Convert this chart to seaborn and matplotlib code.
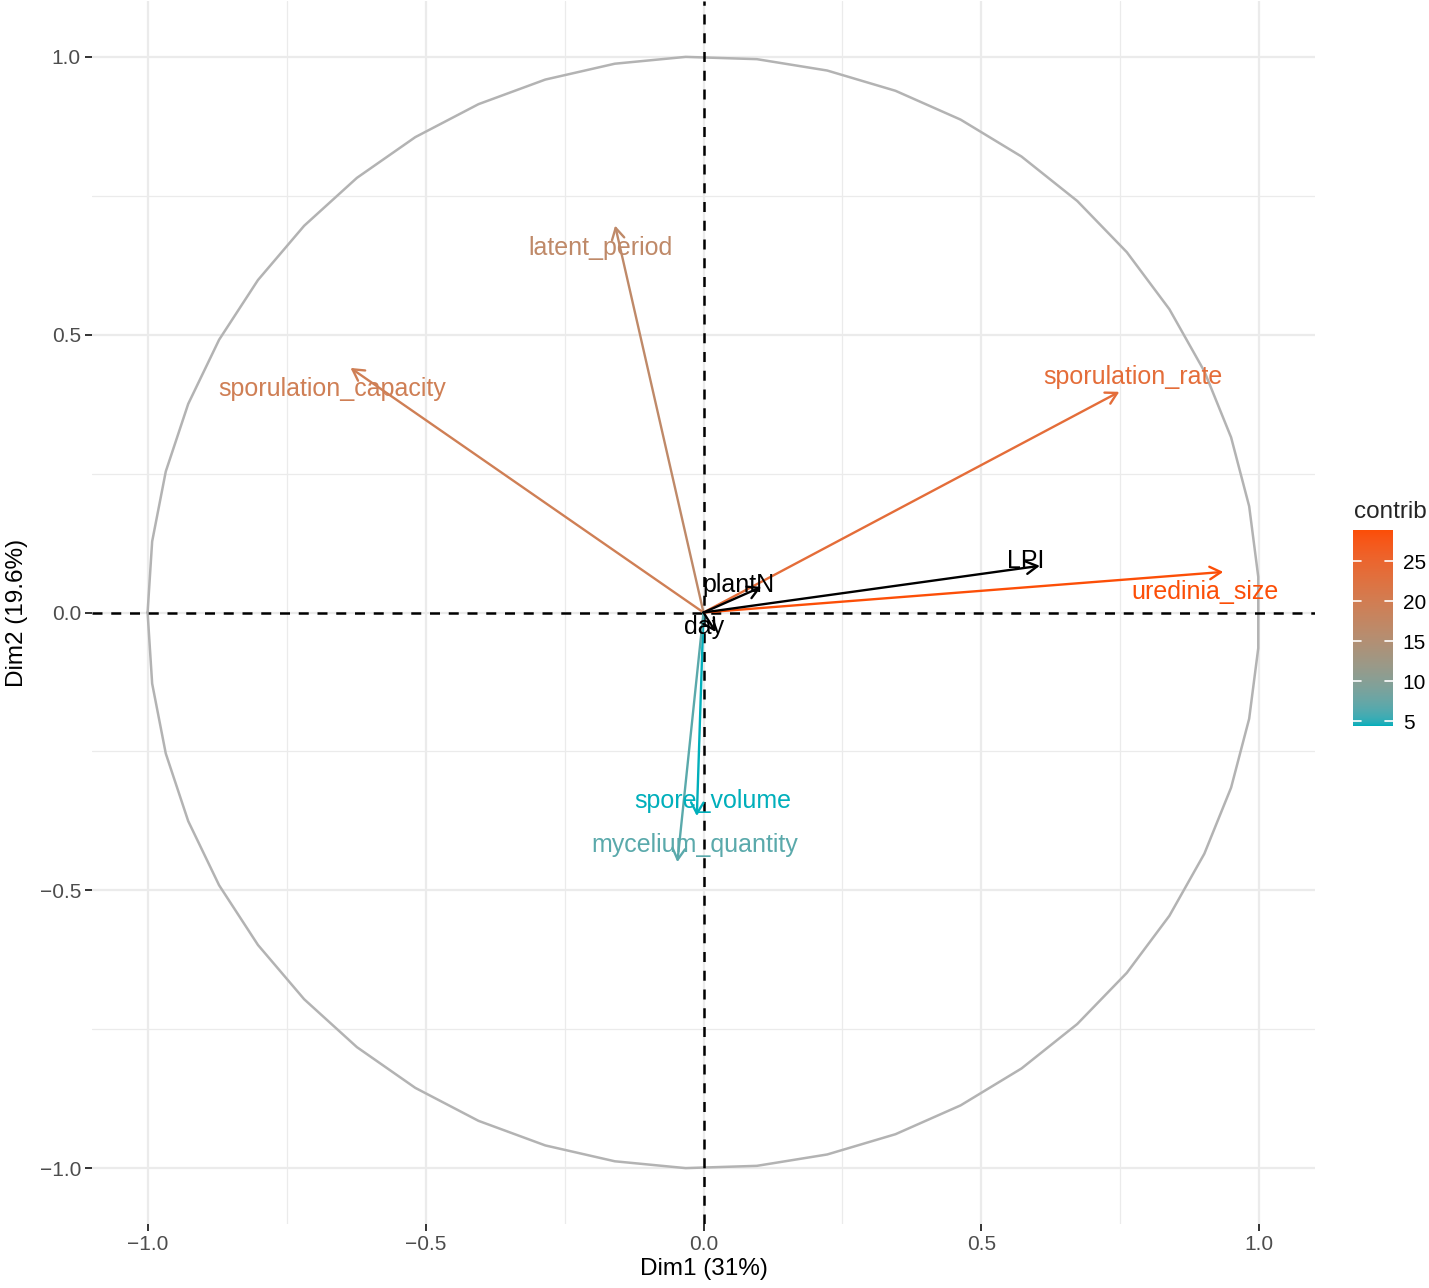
import numpy as np
import pandas as pd
import matplotlib
matplotlib.use("Agg")
import matplotlib.pyplot as plt
import seaborn as sns

# =============================================================================
# Datos: círculo de correlaciones (PCA), Dim1 / Dim2
# =============================================================================
variables = ['latent_period', 'sporulation_capacity', 'sporulation_rate',
             'uredinia_size', 'spore_volume', 'mycelium_quantity']
dim1 = [-0.159, -0.635, 0.748, 0.935, -0.012, -0.047]
dim2 = [0.696, 0.440, 0.397, 0.073, -0.366, -0.449]
contrib = [16.8, 19.6, 23.6, 28.9, 4.4, 6.7]

# variables suplementarias (en negro)
supp_vars = ['LPI', 'plantN', 'day']
supp_dim1 = [0.605, 0.104, 0.022]
supp_dim2 = [0.084, 0.046, -0.035]

x_ticks = [-1.0, -0.5, 0.0, 0.5, 1.0]
legend_ticks = [5, 10, 15, 20, 25]
x_title = 'Dim1 (31%)'
y_title = 'Dim2 (19.6%)'

# desplazamiento de las etiquetas respecto a la punta (píxeles)
label_offsets = {
    'latent_period': (-15, -22), 'sporulation_capacity': (-18, -21),
    'sporulation_rate': (14, 15), 'uredinia_size': (-18, -20),
    'spore_volume': (16, 15), 'mycelium_quantity': (17, 17),
    'LPI': (-14, 5), 'plantN': (-23, 2), 'day': (-12, 5),
}


# =============================================================================
# Gradiente de color en espacio Lab (como scale_colour_gradient de ggplot)
# =============================================================================
def hex_to_lab(h):
    rgb = np.array([int(h[i:i + 2], 16) for i in (1, 3, 5)]) / 255.0
    lin = np.where(rgb <= 0.04045, rgb / 12.92, ((rgb + 0.055) / 1.055) ** 2.4)
    m = np.array([[0.4124, 0.3576, 0.1805],
                  [0.2126, 0.7152, 0.0722],
                  [0.0193, 0.1192, 0.9505]])
    xyz = m @ lin / np.array([0.95047, 1.0, 1.08883])
    f = np.where(xyz > 0.008856, np.cbrt(xyz), 7.787 * xyz + 16 / 116)
    return np.array([116 * f[1] - 16, 500 * (f[0] - f[1]), 200 * (f[1] - f[2])])


def lab_to_rgb(lab):
    fy = (lab[0] + 16) / 116
    fx = fy + lab[1] / 500
    fz = fy - lab[2] / 200
    f = np.array([fx, fy, fz])
    xyz = np.where(f ** 3 > 0.008856, f ** 3, (f - 16 / 116) / 7.787)
    xyz = xyz * np.array([0.95047, 1.0, 1.08883])
    minv = np.array([[3.2406, -1.5372, -0.4986],
                     [-0.9689, 1.8758, 0.0415],
                     [0.0557, -0.2040, 1.0570]])
    lin = minv @ xyz
    rgb = np.where(lin <= 0.0031308, 12.92 * lin, 1.055 * np.clip(lin, 0, None) ** (1 / 2.4) - 0.055)
    return np.clip(rgb, 0, 1)


lab_low = hex_to_lab('#00AFBB')
lab_high = hex_to_lab('#FC4E07')
cmin, cmax = min(contrib), max(contrib)


def grad_color(v):
    t = (v - cmin) / (cmax - cmin)
    return lab_to_rgb(lab_low + t * (lab_high - lab_low))


# =============================================================================
# Figura
# =============================================================================
sns.set_theme(style="white")
plt.rcParams['font.family'] = ['Liberation Sans', 'DejaVu Sans']

W, H = 1429, 1288
fig = plt.figure(figsize=(W / 100, H / 100), dpi=100)
ax = fig.add_axes([92 / W, (H - 1225) / H, 1223 / W, 1225 / H])

ax.set_xlim(-1.1, 1.1)
ax.set_ylim(-1.1, 1.1)
ax.set_aspect('equal', adjustable='box')
ax.set_xticks(x_ticks)
ax.set_yticks(x_ticks)
ax.set_xticks([-0.75, -0.25, 0.25, 0.75], minor=True)
ax.set_yticks([-0.75, -0.25, 0.25, 0.75], minor=True)
ax.grid(which='major', color='#EBEBEB', lw=1.6, zorder=0)
ax.grid(which='minor', color='#EBEBEB', lw=0.9, zorder=0)
ax.set_axisbelow(True)
for s in ax.spines.values():
    s.set_visible(False)
ax.tick_params(which='major', length=5, width=1.4, color='#333333',
               labelsize=15, labelcolor='#4D4D4D', pad=3, bottom=True, left=True)
ax.tick_params(which='minor', length=0)
ax.set_xticklabels([f'{t:.1f}'.replace('-', '\u2212') for t in x_ticks])
ax.set_yticklabels([f'{t:.1f}'.replace('-', '\u2212') for t in x_ticks])

# círculo de radio 1
theta = np.linspace(-np.pi, np.pi, 50)
circle = pd.DataFrame({'x': np.cos(theta), 'y': np.sin(theta)})
sns.lineplot(data=circle, x='x', y='y', sort=False, estimator=None,
             color='#B3B3B3', lw=1.8, ax=ax, zorder=2)
ax.set_xlabel(x_title, fontsize=17.5, color='black', labelpad=3)
ax.set_ylabel(y_title, fontsize=17.5, color='black', labelpad=8)

# ejes discontinuos
ax.axhline(0, color='black', lw=1.8, ls=(0, (4, 3.5)), zorder=3)
ax.axvline(0, color='black', lw=1.8, ls=(0, (4, 3.5)), zorder=3)

arrow_style = "->,head_length=0.8,head_width=0.45"


def draw_var(name, x, y, col):
    ax.annotate('', xy=(x, y), xytext=(0, 0),
                arrowprops=dict(arrowstyle=arrow_style, color=col, lw=1.7,
                                shrinkA=0, shrinkB=0, mutation_scale=10),
                zorder=4)
    ax.annotate(name, xy=(x, y), xytext=label_offsets[name],
                textcoords='offset pixels', ha='center', va='center',
                fontsize=18, color=col, zorder=5)


for name, x, y, c in zip(variables, dim1, dim2, contrib):
    draw_var(name, x, y, grad_color(c))
for name, x, y in zip(supp_vars, supp_dim1, supp_dim2):
    draw_var(name, x, y, 'black')

# =============================================================================
# Leyenda (barra de color)
# =============================================================================
cax = fig.add_axes([1353 / W, (H - 726) / H, 40 / W, 196 / H])
vals = np.linspace(cmin, cmax, 256)
grad = np.array([grad_color(v) for v in vals])[:, None, :]
cax.imshow(grad, origin='lower', aspect='auto', extent=[0, 1, cmin, cmax])
cax.set_xlim(0, 1)
cax.set_ylim(cmin, cmax)
for t in legend_ticks:
    cax.plot([0, 0.2], [t, t], color='white', lw=1.2)
    cax.plot([0.8, 1], [t, t], color='white', lw=1.2)
cax.set_xticks([])
cax.yaxis.tick_right()
cax.set_yticks(legend_ticks)
cax.tick_params(axis='y', length=0, labelsize=15, labelcolor='black', pad=7)
for s in cax.spines.values():
    s.set_visible(False)
fig.text(1354 / W, 1 - 512 / H, 'contrib', fontsize=17.5, ha='left', va='center')

fig.savefig('out.png', dpi=100, facecolor='white')
